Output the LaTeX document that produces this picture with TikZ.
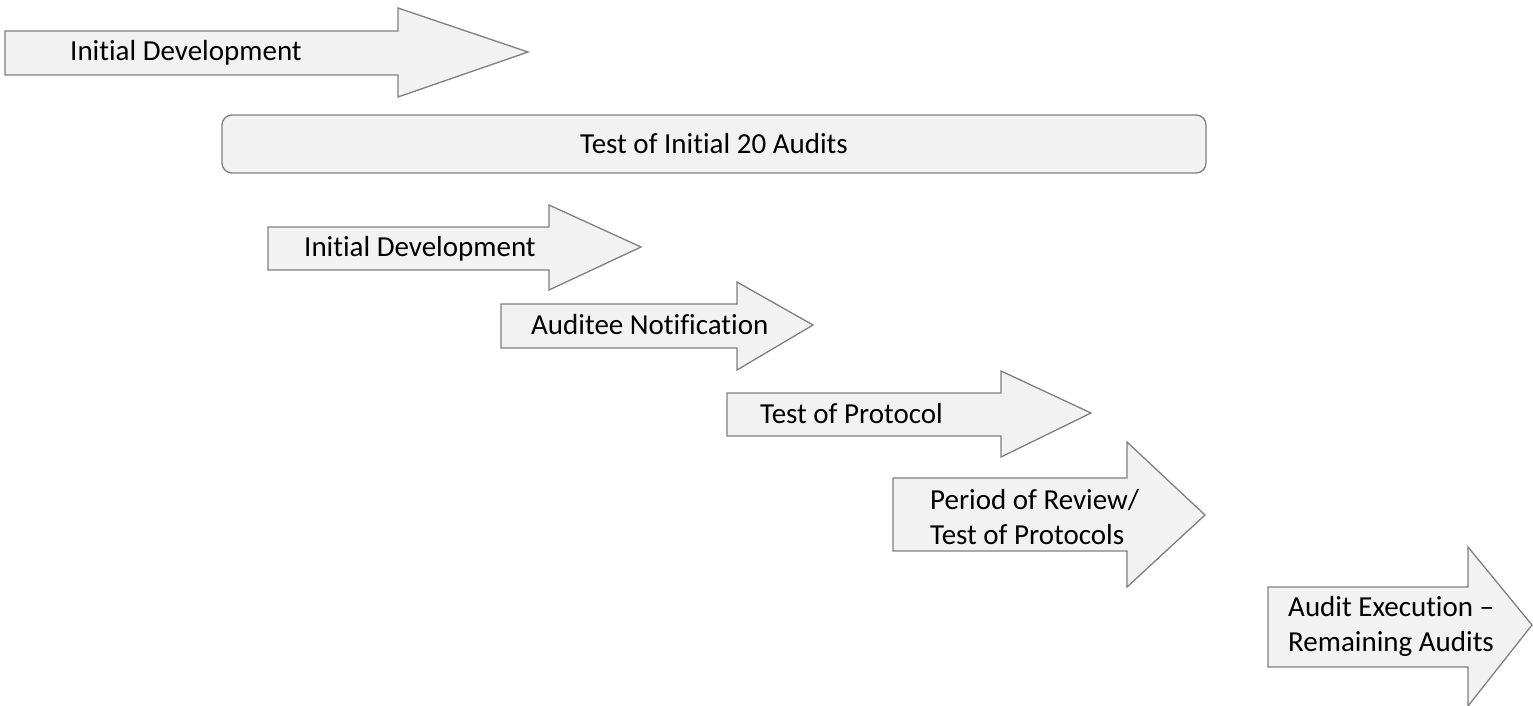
\documentclass[tikz,border=0pt]{standalone}
\usepackage{fontspec}
\setmainfont{Carlito}[Ligatures=NoCommon]
\usepackage{tikz}

\definecolor{stageline}{HTML}{7F7F7F}
\definecolor{stagefill}{HTML}{F2F2F2}
\tikzset{
  stage/.style={draw=stageline, fill=stagefill, line width=1.3pt, line join=miter},
  stagetext/.style={anchor=west, inner sep=0pt, align=left, font=\fontsize{29}{35}\selectfont},
}

\begin{document}
\begin{tikzpicture}[x=1pt,y=-1pt]
        \useasboundingbox (0,0) rectangle (1533,706);
        %Initial Development (top)
        \draw[stage] (5,31) -- (398,31) -- (398,8) -- (528,52) -- (398,97) -- (398,75) -- (5,75) -- cycle;
        \node[stagetext] (devtop) at (70,53) {Initial Development};
        %Test of Initial 20 Audits
        \node[stage, rounded corners=10pt, minimum width=984pt, minimum height=58pt,
              font=\fontsize{29}{35}\selectfont] (testaudits) at (714,144) {Test of Initial 20 Audits};
        %Initial Development
        \draw[stage] (268,227) -- (549,227) -- (549,205) -- (641,247) -- (549,290) -- (549,270) -- (268,270) -- cycle;
        \node[stagetext] (devsub) at (304,249) {Initial Development};
        %Auditee Notification
        \draw[stage] (501,304) -- (737,304) -- (737,282) -- (813,325) -- (737,370) -- (737,348) -- (501,348) -- cycle;
        \node[stagetext] (notify) at (531,325) {Auditee Notification};
        %Test of Protocol
        \draw[stage] (727,393) -- (1001,393) -- (1001,371) -- (1091,413) -- (1001,457) -- (1001,436) -- (727,436) -- cycle;
        \node[stagetext] (protocol) at (760,414) {Test of Protocol};
        %Period of Review
        \draw[stage] (893,478) -- (1127,478) -- (1127,442) -- (1205,515) -- (1127,587) -- (1127,551) -- (893,551) -- cycle;
        \node[stagetext] (review) at (930,517) {Period of Review/\\Test of Protocols};
        %Audit Execution
        \draw[stage] (1268,587) -- (1468,587) -- (1468,547) -- (1532,625) -- (1468,706) -- (1468,667) -- (1268,667) -- cycle;
        \node[stagetext] (execution) at (1288,626) {Audit Execution --\\Remaining Audits};
\end{tikzpicture}
\end{document}
